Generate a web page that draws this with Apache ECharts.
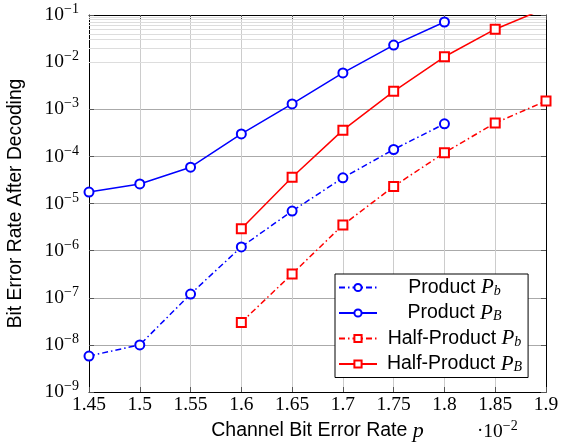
<!DOCTYPE html>
<html>
<head>
<meta charset="utf-8">
<script src="https://cdn.jsdelivr.net/npm/echarts@6/dist/echarts.min.js"></script>
<style>
  html, body { margin: 0; padding: 0; background: #fff; }
  #chart { width: 561px; height: 446px; }
</style>
</head>
<body>
<div id="chart"></div>
<script>
// channel bit error rate, in units of 1e-2
const pProduct = [1.45, 1.5, 1.55, 1.6, 1.65, 1.7, 1.75, 1.8]
const pHalf = [1.6, 1.65, 1.7, 1.75, 1.8, 1.85, 1.9]

const productPb = [5.8e-9, 1.0e-8, 1.2e-7, 1.2e-6, 6.9e-6, 3.5e-5, 1.4e-4, 4.9e-4]
const productPB = [1.75e-5, 2.6e-5, 5.9e-5, 3.0e-4, 1.3e-3, 5.9e-3, 2.3e-2, 7.1e-2]
const halfPb = [3.0e-8, 3.2e-7, 3.5e-6, 2.3e-5, 1.2e-4, 5.1e-4, 1.5e-3]
const halfPB = [2.9e-6, 3.6e-5, 3.6e-4, 2.4e-3, 1.3e-2, 5.0e-2, 1.4e-1]

const seriesNames = ['Product P_b', 'Product P_B', 'Half-Product P_b', 'Half-Product P_B']

// minor horizontal grid lines at 2..9 of each decade
const minorGrid = []
for (let e = -9; e < -1; e++) {
  for (let k = 2; k <= 9; k++) minorGrid.push(k * Math.pow(10, e))
}

const blue = '#0000ff'
const red = '#ff0000'
const dashDot = [6, 3, 1.5, 3]

function pairs (xs, ys) {
  return xs.map((x, i) => [x, ys[i]])
}

const serif = 'Liberation Serif'
const sans = 'Liberation Sans'

const chart = echarts.init(document.getElementById('chart'))

const yAxisBase = {
  type: 'log',
  logBase: 10,
  min: 1e-9,
  max: 1e-1,
  interval: 1,
  axisLine: { show: true, lineStyle: { color: '#000', width: 1 } },
  axisTick: { show: true, inside: true, length: 5, lineStyle: { color: '#555' } }
}

const xAxisBase = {
  type: 'value',
  min: 1.45,
  max: 1.9,
  interval: 0.05,
  axisLine: { show: true, onZero: false, lineStyle: { color: '#000', width: 1 } },
  axisTick: { show: true, inside: true, length: 5, lineStyle: { color: '#555' } }
}

function lineSeries (name, xs, ys, color, dashed, symbol) {
  return {
    name: name,
    type: 'line',
    data: pairs(xs, ys),
    symbol: symbol,
    symbolSize: 9,
    showAllSymbol: true,
    clip: true,
    z: 5,
    lineStyle: { color: color, width: 1.5, type: dashed ? dashDot : 'solid' },
    itemStyle: { color: color, borderWidth: 1.5 }
  }
}

const options = {
  animation: false,
  grid: { left: 89, right: 15, top: 15, bottom: 54, outerBoundsMode: 'none' },
  xAxis: [
    Object.assign({}, xAxisBase, {
      position: 'bottom',
      name: '{t|Channel Bit Error Rate }{i|p}',
      nameLocation: 'middle',
      nameGap: 27,
      nameTextStyle: {
        rich: {
          t: { fontFamily: sans, fontSize: 19.5, color: '#000' },
          i: { fontFamily: serif, fontStyle: 'italic', fontSize: 22, color: '#000' }
        }
      },
      axisLabel: {
        margin: 3,
        fontFamily: serif,
        fontSize: 19.5,
        color: '#000',
        formatter: v => String(parseFloat(v.toFixed(2)))
      },
      splitLine: { show: true, lineStyle: { color: '#cccccc', width: 1 } }
    }),
    Object.assign({}, xAxisBase, {
      position: 'top',
      axisLabel: { show: false },
      splitLine: { show: false }
    })
  ],
  yAxis: [
    Object.assign({}, yAxisBase, {
      position: 'left',
      name: 'Bit Error Rate After Decoding',
      nameLocation: 'middle',
      nameGap: 64,
      nameTextStyle: { fontFamily: sans, fontSize: 19.3, color: '#000' },
      axisLabel: {
        margin: 10,
        color: '#000',
        formatter: v => '{b|10}{e|\u2212' + Math.abs(Math.round(Math.log10(v))) + '}',
        rich: {
          b: { fontFamily: serif, fontSize: 19.5, color: '#000' },
          e: { fontFamily: serif, fontSize: 14, color: '#000', verticalAlign: 'top', padding: [0, 0, 11, 0] }
        }
      },
      splitLine: { show: true, lineStyle: { color: '#aaaaaa', width: 1 } }
    }),
    Object.assign({}, yAxisBase, {
      position: 'right',
      axisLabel: { show: false },
      splitLine: { show: false }
    })
  ],
  legend: {
    data: seriesNames,
    orient: 'vertical',
    left: 335,
    top: 274,
    width: 197,
    backgroundColor: '#fff',
    borderColor: '#000',
    borderWidth: 1,
    borderRadius: 0,
    padding: [3, 6, 3, 3],
    itemGap: 4.5,
    itemWidth: 38,
    itemHeight: 9,
    formatter: name => {
      const parts = name.split(' P_')
      return '{n|' + parts[0] + ' }{p|P}{s|' + parts[1] + '}'
    },
    textStyle: {
      width: 145,
      align: 'center',
      rich: {
        n: { fontFamily: sans, fontSize: 19.5, color: '#000', align: 'center' },
        p: { fontFamily: serif, fontStyle: 'italic', fontSize: 21, color: '#000', align: 'center' },
        s: { fontFamily: serif, fontStyle: 'italic', fontSize: 14, color: '#000', align: 'center', verticalAlign: 'bottom', padding: [7, 0, 0, 0] }
      }
    }
  },
  graphic: [
    {
      type: 'text',
      left: 477,
      top: 419,
      style: {
        text: '\u00b7{b|10}{e|\u22122}',
        fill: '#000',
        font: '19px "Liberation Serif"',
        rich: {
          b: { fontFamily: serif, fontSize: 19.5, fill: '#000' },
          e: { fontFamily: serif, fontSize: 14, fill: '#000', verticalAlign: 'top', padding: [0, 0, 11, 0] }
        }
      }
    }
  ],
  series: [
    {
      name: 'minor grid',
      type: 'line',
      data: [],
      silent: true,
      z: 1,
      markLine: {
        silent: true,
        symbol: ['none', 'none'],
        label: { show: false },
        animation: false,
        lineStyle: { color: '#dddddd', width: 1, type: 'solid' },
        data: minorGrid.map(v => ({ yAxis: v }))
      }
    },
    lineSeries(seriesNames[0], pProduct, productPb, blue, true, 'emptyCircle'),
    lineSeries(seriesNames[1], pProduct, productPB, blue, false, 'emptyCircle'),
    lineSeries(seriesNames[2], pHalf, halfPb, red, true, 'emptyRect'),
    lineSeries(seriesNames[3], pHalf, halfPB, red, false, 'emptyRect')
  ]
}

chart.setOption(options)
</script>
</body>
</html>
